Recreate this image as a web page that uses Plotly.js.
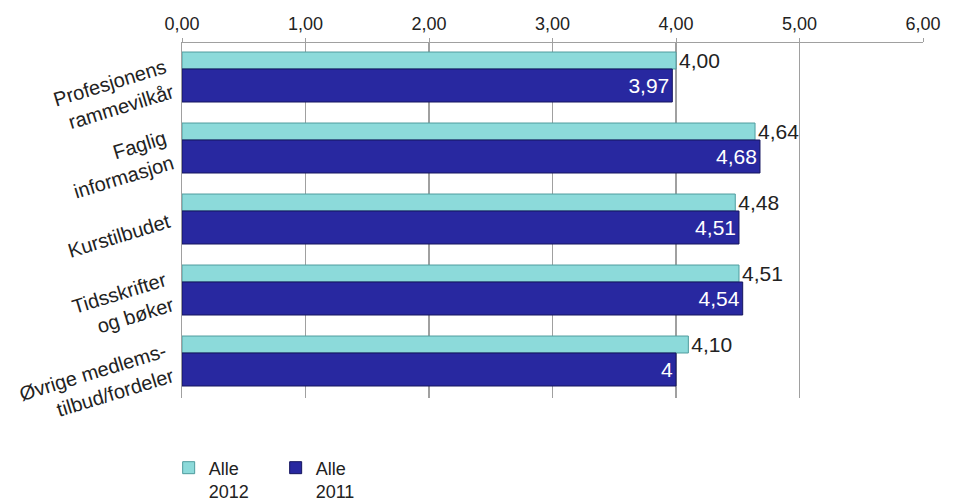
<!DOCTYPE html>
<html>
<head>
<meta charset="utf-8">
<script src="https://cdn.plot.ly/plotly-3.0.1.min.js"></script>
<style>html,body{margin:0;padding:0;background:#fff;}#chart{width:963px;height:501px;}</style>
</head>
<body>
<div id="chart"></div>
<script>
const categories = ["Profesjonens<br>rammevilkår", "Faglig<br>informasjon", "Kurstilbudet", "Tidsskrifter<br>og bøker", "Øvrige medlems-<br>tilbud/fordeler"];
const values2012 = [4.00, 4.64, 4.48, 4.51, 4.10];
const values2011 = [3.97, 4.68, 4.51, 4.54, 4.00];
const labels2012 = ["4,00", "4,64", "4,48", "4,51", "4,10"];
const labels2011 = ["3,97", "4,68", "4,51", "4,54", "4"];
const seriesNames = ["Alle<br>2012", "Alle<br>2011"];
const xTicks = [0, 1, 2, 3, 4, 5, 6];

const font = "Liberation Sans, Arial, sans-serif";

const traces = [
  {
    type: "bar", orientation: "h", name: seriesNames[0],
    y: categories, x: values2012, text: labels2012,
    textposition: "outside", constraintext: "none",
    textfont: {size: 21, color: "#222"},
    offset: -0.373, width: 0.239,
    marker: {color: "#8cdada", line: {color: "#4f9c9e", width: 1}},
    cliponaxis: false, hoverinfo: "x"
  },
  {
    type: "bar", orientation: "h", name: seriesNames[1],
    y: categories, x: values2011, text: labels2011,
    textposition: "inside", insidetextanchor: "end", constraintext: "none",
    textfont: {size: 21, color: "#ffffff"},
    offset: -0.134, width: 0.465,
    marker: {color: "#2828a0", line: {color: "#15155e", width: 1}},
    cliponaxis: false, hoverinfo: "x"
  }
];

const layout = {
  width: 963, height: 501,
  margin: {l: 182, r: 40, t: 43, b: 103, autoexpand: false},
  paper_bgcolor: "#ffffff", plot_bgcolor: "#ffffff",
  barmode: "overlay",
  separators: ",.",
  font: {family: font, size: 18, color: "#222"},
  showlegend: true,
  legend: {orientation: "h", x: -0.018, xanchor: "left", y: -0.145, yanchor: "top",
           valign: "top", font: {family: font, size: 18, color: "#222"},
           traceorder: "normal", itemwidth: 30, entrywidth: 62, entrywidthmode: "pixels"},
  xaxis: {
    side: "top", range: [0, 6], tickvals: xTicks, tickformat: ".2f",
    showgrid: true, gridcolor: "#a0a0a0", gridwidth: 1.5,
    showline: true, linecolor: "#a0a0a0", linewidth: 1.5,
    ticks: "outside", ticklen: 4, tickcolor: "#a0a0a0",
    tickfont: {size: 18, color: "#222"}, zeroline: false, fixedrange: true
  },
  yaxis: {
    autorange: "reversed", tickangle: -17,
    showline: true, linecolor: "#a0a0a0", linewidth: 1.5,
    ticks: "", tickfont: {size: 20, color: "#222"}, showgrid: false,
    ticklabelstandoff: 8, fixedrange: true
  }
};

Plotly.newPlot("chart", traces, layout, {displayModeBar: false, staticPlot: true});
</script>
</body>
</html>
